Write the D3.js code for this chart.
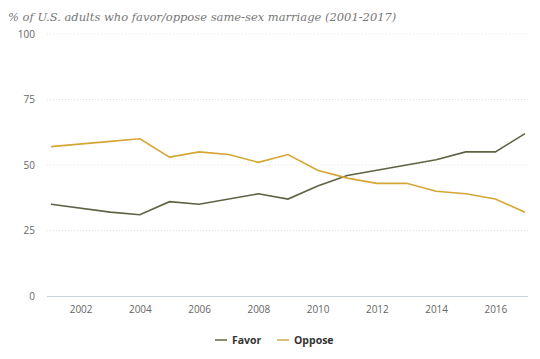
<!DOCTYPE html>
<html><head><meta charset="utf-8">
<script src="https://cdn.jsdelivr.net/npm/d3@7/dist/d3.min.js"></script>
<style>body{margin:0;background:#fff;} svg{display:block;}</style>
</head><body>
<svg id="chart" width="540" height="359"></svg>
<script>
const years = [2001,2003,2004,2005,2006,2007,2008,2009,2010,2011,2012,2013,2014,2015,2016,2017];
const favor = [35,32,31,36,35,37,39,37,42,46,48,50,52,55,55,62];
const oppose = [57,59,60,53,55,54,51,54,48,45,43,43,40,39,37,32];
const xTicks = [2002,2004,2006,2008,2010,2012,2014,2016];
const yTicks = [0,25,50,75,100];
const seriesNames = ["Favor","Oppose"];
const colors = ["#5c6444","#d6a634"];
const legendColors = ["#8a8b6c","#d9c27e"];

const svg = d3.select("#chart");
const x = d3.scaleLinear().domain([2001,2017]).range([51,525]);
const y = d3.scaleLinear().domain([0,100]).range([296,34]);
const gridL = 47, gridR = 528;

svg.append("text").attr("x",8).attr("y",21)
  .attr("font-family","DejaVu Serif").attr("font-style","italic")
  .attr("font-size",11.5).attr("fill","#777")
  .text("% of U.S. adults who favor/oppose same-sex marriage (2001-2017)");

// grid
svg.append("g").selectAll("line").data(yTicks.filter(d=>d>0)).join("line")
  .attr("x1",gridL).attr("x2",gridR).attr("y1",d=>y(d)).attr("y2",d=>y(d))
  .attr("stroke","#e2e2e2").attr("stroke-dasharray","1,2");
svg.append("line").attr("x1",gridL).attr("x2",gridR).attr("y1",y(0)+0.5).attr("y2",y(0)+0.5)
  .attr("stroke","#c9d3dc");

// y axis
const ya = svg.append("g").attr("transform",`translate(35,0)`)
  .call(d3.axisLeft(y).tickValues(yTicks).tickSize(0).tickPadding(0));
ya.select(".domain").remove();
ya.selectAll("text").attr("font-family","Open Sans").attr("font-size",10).attr("fill","#666");

// x axis
const xa = svg.append("g").attr("transform",`translate(0,306)`)
  .call(d3.axisBottom(x).tickValues(xTicks).tickFormat(d3.format("d")).tickSize(0).tickPadding(0));
xa.select(".domain").remove();
xa.selectAll("text").attr("font-family","Open Sans").attr("font-size",10).attr("fill","#666");

const data = [favor, oppose];
const line = d3.line().x((d,i)=>x(years[i])).y(d=>y(d));
svg.append("g").selectAll("path").data(data).join("path")
  .attr("d",d=>line(d)).attr("fill","none")
  .attr("stroke",(d,i)=>colors[i]).attr("stroke-width",1.6);

// legend
const lg = svg.append("g");
const lx = [215, 277];
seriesNames.forEach((n,i)=>{
  lg.append("line").attr("x1",lx[i]).attr("x2",lx[i]+12).attr("y1",340).attr("y2",340)
    .attr("stroke",legendColors[i]).attr("stroke-width",2);
  lg.append("text").attr("x",lx[i]+17).attr("y",344).text(n)
    .attr("font-family","Open Sans").attr("font-weight","bold").attr("font-size",10.5).attr("fill","#333");
});
</script>
</body></html>
